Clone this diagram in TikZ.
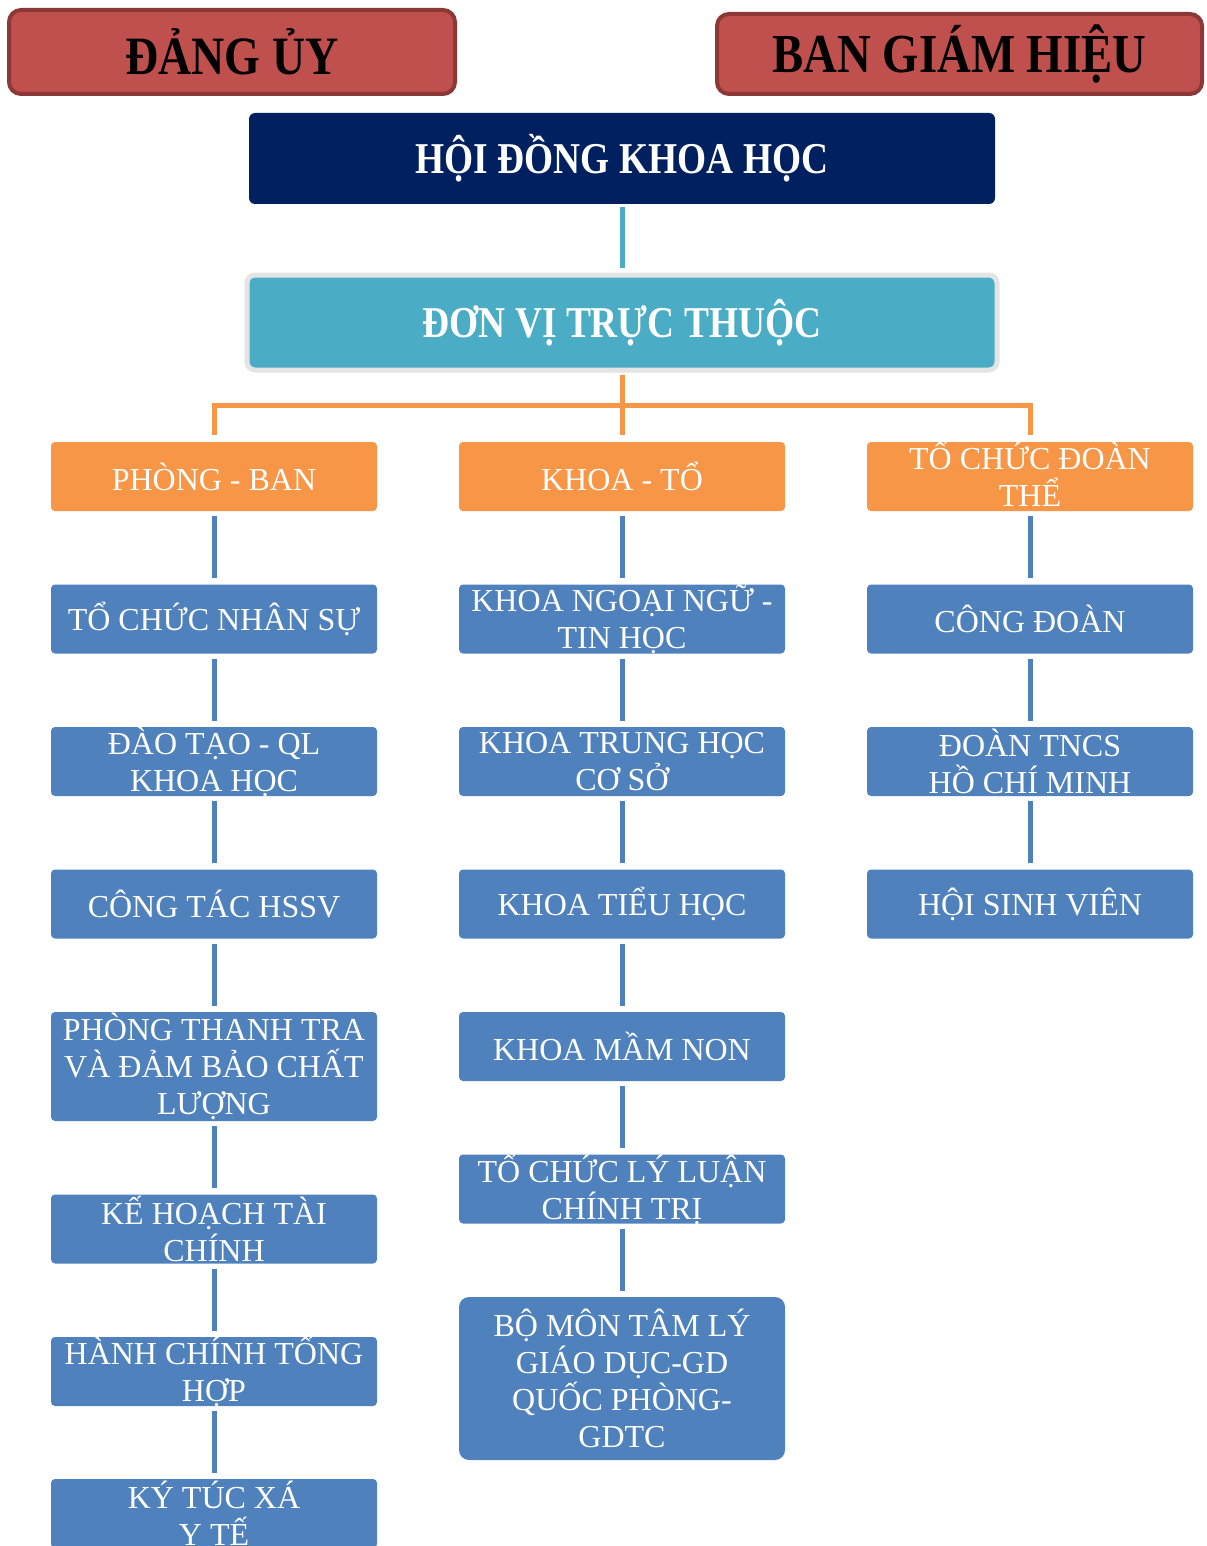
\documentclass[tikz,border=0pt]{standalone}
\usepackage{fontspec}
\setmainfont{Liberation Serif}
\newfontfamily\narrowbf[FakeStretch=0.85]{Liberation Serif}
\usepackage{tikz}
\definecolor{headred}{HTML}{C0504D}
\definecolor{headline}{HTML}{8C3836}
\definecolor{navy}{HTML}{002060}
\definecolor{teal}{HTML}{4BACC6}
\definecolor{tealline}{HTML}{E4E4E4}
\definecolor{orangebox}{HTML}{F79646}
\definecolor{unitblue}{HTML}{4F81BD}

\begin{document}
\begin{tikzpicture}[x=0.5pt,y=-0.5pt,
	head/.style={fill=headred, draw=headline, line width=2pt, rounded corners=6pt,
		font=\narrowbf\bfseries, text=black},
	council/.style={fill=navy, rounded corners=3pt, minimum width=373pt, minimum height=45.5pt,
		font=\narrowbf\bfseries\fontsize{22}{26}\selectfont, text=white},
	member/.style={fill=teal, draw=tealline, line width=2.5pt, rounded corners=4pt,
		minimum width=375pt, minimum height=47.5pt,
		font=\narrowbf\bfseries\fontsize{22}{26}\selectfont, text=white},
	group/.style={fill=orangebox, rounded corners=2pt, minimum width=163pt, minimum height=34.5pt, inner sep=0pt},
	unit/.style={fill=unitblue, rounded corners=2pt, minimum width=163pt, minimum height=34.5pt, inner sep=0pt},
	utext/.style={text=white, align=center, inner sep=0pt, font=\fontsize{16}{18.5}\selectfont},
	blueline/.style={unitblue, line width=2.5pt, shorten <=2.5pt, shorten >=3pt},
	orangeline/.style={orangebox, line width=2.5pt, shorten <=1pt, shorten >=3.5pt}]
	\useasboundingbox (0,0) rectangle (1206,1546);
	%
	\node[head, minimum width=223pt, minimum height=42pt] (DU) at (232,52)
		{\fontsize{27}{30}\selectfont ĐẢNG ỦY};
	\node[head, minimum width=242.5pt, minimum height=40pt] (BGH) at (959.5,54)
		{\fontsize{27.5}{30}\selectfont BAN GIÁM HIỆU};
	\node[council] (HD) at (622,158.5) {HỘI ĐỒNG KHOA HỌC};
	\node[member] (DV) at (622,322.5) {ĐƠN VỊ TRỰC THUỘC};
	\coordinate (bus) at (622,405);
	%
	\node[group, label={[utext]center:PHÒNG - BAN}] (P) at (214,476.5) {};
	\node[group, label={[utext]center:KHOA - TỔ}] (K) at (622,476.5) {};
	\node[group, label={[utext, yshift=1.5pt]center:{TỔ CHỨC ĐOÀN\\THỂ}}] (T) at (1030,476.5) {};
	%
	\node[unit, label={[utext]center:TỔ CHỨC NHÂN SỰ}] (P1) at (214,619) {};
	\node[unit, label={[utext]center:{ĐÀO TẠO - QL\\KHOA HỌC}}] (P2) at (214,761.5) {};
	\node[unit, label={[utext]center:CÔNG TÁC HSSV}] (P3) at (214,904) {};
	\node[unit, minimum height=54.5pt, label={[utext]center:{PHÒNG THANH TRA\\VÀ ĐẢM BẢO CHẤT\\LƯỢNG}}] (P4) at (214,1066.5) {};
	\node[unit, label={[utext]center:{KẾ HOẠCH TÀI\\CHÍNH}}] (P5) at (214,1229) {};
	\node[unit, label={[utext]center:{HÀNH CHÍNH TỔNG\\HỢP}}] (P6) at (214,1371.5) {};
	\node[unit, label={[utext]center:{KÝ TÚC XÁ\\Y TẾ}}] (P7) at (214,1513.5) {};
	%
	\node[unit, label={[utext]center:{KHOA NGOẠI NGỮ -\\TIN HỌC}}] (K1) at (622,619) {};
	\node[unit, label={[utext]center:{KHOA TRUNG HỌC\\CƠ SỞ}}] (K2) at (622,761.5) {};
	\node[unit, label={[utext]center:KHOA TIỂU HỌC}] (K3) at (622,904) {};
	\node[unit, label={[utext]center:KHOA MẦM NON}] (K4) at (622,1046.5) {};
	\node[unit, label={[utext]center:{TỔ CHỨC LÝ LUẬN\\CHÍNH TRỊ}}] (K5) at (622,1189) {};
	\node[unit, minimum height=81.5pt, rounded corners=5pt,
		label={[utext]center:{BỘ MÔN TÂM LÝ\\GIÁO DỤC-GD\\QUỐC PHÒNG-\\GDTC}}] (K6) at (622,1378.5) {};
	%
	\node[unit, label={[utext]center:CÔNG ĐOÀN}] (T1) at (1030,619) {};
	\node[unit, label={[utext]center:{ĐOÀN TNCS\\HỒ CHÍ MINH}}] (T2) at (1030,761.5) {};
	\node[unit, label={[utext]center:HỘI SINH VIÊN}] (T3) at (1030,904) {};
	%
	\path[teal, line width=2.5pt, shorten <=1.5pt, shorten >=2.5pt]
		(HD) edge (DV);
	\path[orangeline]
		(DV) edge (K);
	\draw[orangeline, shorten <=3.5pt] (P) |- (bus) -| (T);
	\path[blueline]
		(P) edge (P1) (P1) edge (P2) (P2) edge (P3) (P3) edge (P4)
		(P4) edge (P5) (P5) edge (P6) (P6) edge (P7)
		(K) edge (K1) (K1) edge (K2) (K2) edge (K3) (K3) edge (K4)
		(K4) edge (K5) (K5) edge (K6)
		(T) edge (T1) (T1) edge (T2) (T2) edge (T3);
\end{tikzpicture}
\end{document}
